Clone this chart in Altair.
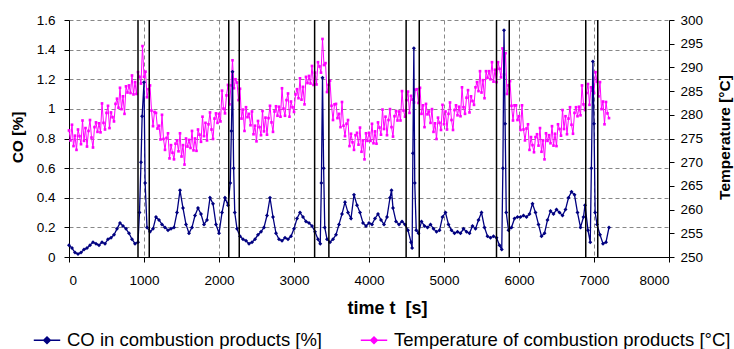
import altair as alt
import pandas as pd

CO_LABEL = "CO in combustion products [%]"
TEMP_LABEL = "Temperature of combustion products [°C]"

# Temperature samples (every 20 s, 0..7200 s), °C
temp_t = list(range(0, 7201, 20))
temp_v = [
    276.7, 274.6, 277.9, 273.4, 275.6, 272.6, 276.9, 275.5, 273.8, 278.8,
    274.5, 277.2, 273.3, 276.6, 278.9, 275.2, 273.1, 277.4, 278.4, 276.4,
    278.2, 276.3, 282.4, 278.3, 276.9, 280.4, 281.9, 277.2, 280.5, 279.5,
    278.6, 282.3, 283.4, 281.5, 285.7, 281.2, 283.9, 280.2, 286.0, 284.7,
    286.2, 284.6, 288.3, 284.3, 286.9, 284.4, 289.0, 288.0, 286.6, 294.5,
    288.0, 289.1, 283.7, 285.4, 286.2, 280.9, 277.6, 280.6, 280.4, 277.1,
    277.7, 274.8, 280.0, 274.9, 272.6, 275.1, 276.1, 270.8, 273.6, 272.0,
    270.6, 273.9, 274.6, 272.3, 276.1, 271.2, 273.6, 269.5, 275.0, 273.3,
    274.7, 273.0, 276.6, 272.5, 275.0, 272.4, 276.9, 275.8, 274.3, 279.6,
    275.5, 278.3, 274.6, 278.0, 280.5, 276.9, 274.9, 279.2, 280.3, 278.3,
    280.2, 278.6, 285.1, 281.3, 280.3, 284.1, 286.3, 282.2, 286.2, 291.5,
    285.6, 287.5, 286.8, 283.1, 285.5, 279.2, 281.1, 276.6, 281.6, 279.5,
    280.2, 277.8, 280.7, 275.9, 277.7, 274.4, 278.7, 277.4, 275.7, 280.8,
    276.5, 279.4, 275.8, 279.3, 281.9, 278.4, 276.4, 280.7, 281.8, 279.8,
    281.7, 279.6, 285.6, 281.3, 279.8, 283.1, 284.5, 279.6, 282.8, 281.6,
    280.6, 284.3, 285.4, 283.5, 287.7, 283.2, 285.9, 282.2, 288.0, 286.7,
    288.2, 286.6, 290.3, 286.3, 288.9, 286.4, 291.1, 290.2, 288.9, 296.0,
    290.5, 290.9, 284.8, 286.3, 287.2, 281.9, 278.9, 282.2, 282.3, 279.3,
    280.2, 277.4, 282.7, 277.7, 275.5, 278.1, 278.9, 273.4, 276.0, 274.2,
    272.6, 275.7, 276.2, 273.7, 277.3, 272.2, 274.6, 270.6, 276.1, 274.5,
    276.2, 274.5, 278.1, 274.0, 276.5, 273.9, 278.4, 277.3, 275.8, 281.1,
    277.0, 279.6, 275.7, 278.9, 281.2, 277.4, 275.4, 279.7, 280.8, 278.8,
    280.7, 278.8, 285.0, 280.9, 279.6, 283.1, 284.9, 280.4, 284.0, 283.2,
    282.6, 285.3, 285.4, 282.5, 285.7, 280.2, 282.0, 277.4, 282.3, 280.1,
    280.7, 278.3, 281.2, 276.4, 278.2, 274.9, 279.4, 278.3, 276.8, 282.1,
    278.0, 280.7, 276.9, 280.2, 282.6, 278.9, 276.8, 281.0, 282.0, 279.9,
    281.7, 279.7, 285.8, 281.6, 280.2, 283.6, 285.2, 280.5, 283.9, 282.9,
    282.1, 285.8, 286.9, 285.0, 289.2, 284.7, 287.3, 283.5, 289.2, 287.8,
    289.2, 287.5, 291.1, 287.0, 289.5, 286.9, 291.1, 289.7, 287.9, 294.0,
    288.5, 293.0, 284.4, 286.2, 287.1, 281.9, 278.8, 282.0, 282.0, 278.9,
    279.7, 276.8, 282.0, 276.9, 274.6, 277.1, 278.0, 272.6, 275.3, 273.6,
    272.1, 275.3, 275.9, 273.5, 277.2, 272.2, 274.6, 270.6, 276.1, 274.5,
    275.7, 274.0, 277.6, 273.5, 276.0, 273.4, 278.0, 277.0, 275.6, 281.0,
    277.0, 279.7, 275.9, 279.2, 281.6, 277.9, 276.0, 280.4, 281.6, 279.7,
    281.7, 279.9, 286.2, 282.2, 281.0, 284.6, 286.5, 282.1, 285.8, 285.1,
    284.6, 289.0, 287.0, 283.9, 286.9, 281.2, 282.8, 278.0, 282.7, 280.3,
    279.3,
]

# CO samples, %
co_t = [
    0, 40, 80, 120, 160, 200, 240, 280, 320, 360,
    400, 440, 480, 520, 560, 600, 640, 680, 720, 760,
    800, 840, 880, 920, 940, 960, 975, 1000, 1015, 1040, 1080, 1120, 1160,
    1200, 1240, 1280, 1320, 1360, 1400, 1440, 1480, 1520, 1560,
    1600, 1640, 1680, 1720, 1760, 1800, 1840, 1880, 1920, 1960,
    2000, 2040, 2080, 2120, 2150, 2165, 2180, 2195, 2210, 2240, 2280, 2320, 2360,
    2400, 2440, 2480, 2520, 2560, 2600, 2640, 2680, 2720, 2760,
    2800, 2840, 2880, 2920, 2960, 3000, 3040, 3080, 3120, 3160,
    3200, 3240, 3280, 3320, 3350, 3365, 3380, 3395, 3410, 3440, 3480, 3520, 3560,
    3600, 3640, 3680, 3720, 3760, 3800, 3840, 3880, 3920, 3960,
    4000, 4040, 4080, 4120, 4160, 4200, 4240, 4280, 4300, 4320, 4360,
    4400, 4440, 4480, 4520, 4560, 4575, 4585, 4598, 4610, 4630, 4660, 4700, 4740, 4780,
    4820, 4860, 4900, 4940, 4980, 5020, 5060, 5100, 5140, 5180,
    5220, 5260, 5300, 5340, 5380, 5420, 5460, 5500, 5540, 5580,
    5620, 5660, 5700, 5740, 5770, 5785, 5800, 5815, 5830, 5860, 5900,
    5940, 5980, 6020, 6060, 6100, 6140, 6180, 6220, 6260, 6300,
    6340, 6380, 6420, 6460, 6500, 6540, 6580, 6620, 6660, 6700,
    6740, 6780, 6820, 6860, 6880, 6920, 6950, 6965, 6985, 7000, 7015, 7040,
    7080, 7120, 7160, 7200,
]
co_v = [
    0.08, 0.06, 0.03, 0.02, 0.03, 0.05, 0.06, 0.08, 0.10, 0.09,
    0.08, 0.10, 0.09, 0.12, 0.13, 0.15, 0.19, 0.23, 0.21, 0.19,
    0.16, 0.12, 0.09, 0.10, 0.30, 0.64, 0.95, 1.18, 0.50, 0.20, 0.17, 0.19, 0.27,
    0.25, 0.22, 0.20, 0.18, 0.19, 0.20, 0.30, 0.45, 0.33, 0.22,
    0.16, 0.20, 0.28, 0.33, 0.29, 0.22, 0.25, 0.40, 0.36, 0.22,
    0.16, 0.30, 0.40, 0.35, 0.50, 0.85, 1.25, 0.60, 0.30, 0.19, 0.14, 0.12, 0.11,
    0.09, 0.10, 0.12, 0.15, 0.17, 0.20, 0.28, 0.40, 0.27, 0.16,
    0.12, 0.11, 0.13, 0.12, 0.14, 0.19, 0.26, 0.30, 0.27, 0.24,
    0.23, 0.21, 0.17, 0.12, 0.09, 0.50, 1.21, 0.60, 0.20, 0.12, 0.10, 0.12, 0.15,
    0.22, 0.29, 0.37, 0.30, 0.26, 0.42, 0.35, 0.30, 0.23, 0.21,
    0.23, 0.22, 0.26, 0.29, 0.25, 0.22, 0.27, 0.40, 0.45, 0.33, 0.24,
    0.22, 0.24, 0.22, 0.18, 0.10, 0.06, 0.70, 1.41, 0.50, 0.18, 0.16, 0.24, 0.21, 0.20,
    0.22, 0.19, 0.17, 0.18, 0.27, 0.30, 0.22, 0.18, 0.16, 0.17,
    0.16, 0.19, 0.17, 0.16, 0.21, 0.19, 0.25, 0.30, 0.20, 0.14,
    0.13, 0.14, 0.13, 0.08, 0.05, 0.60, 1.53, 0.90, 0.30, 0.18, 0.20,
    0.26, 0.27, 0.27, 0.28, 0.27, 0.29, 0.36, 0.30, 0.22, 0.14,
    0.16, 0.25, 0.31, 0.29, 0.32, 0.30, 0.28, 0.32, 0.40, 0.44,
    0.42, 0.30, 0.20, 0.27, 0.35, 0.18, 0.10, 0.60, 1.32, 0.90, 0.30, 0.22,
    0.15, 0.09, 0.10, 0.20,
]

# Vertical marker lines (s)
event_t = [920, 1070, 2130, 2270, 3275, 3465, 4495, 4670, 5700, 5870, 6890, 7050]

x_ticks = [0, 1000, 2000, 3000, 4000, 5000, 6000, 7000, 8000]
co_ticks = [0, 0.2, 0.4, 0.6, 0.8, 1.0, 1.2, 1.4, 1.6]
temp_ticks = [250, 255, 260, 265, 270, 275, 280, 285, 290, 295, 300]

assert len(temp_t) == len(temp_v)
assert len(co_t) == len(co_v)

NAVY = "#000080"
MAGENTA = "#FF00FF"
FONT = "Liberation Sans"

temp_df = pd.DataFrame({"t": temp_t, "v": temp_v, "series": TEMP_LABEL})
co_df = pd.DataFrame({"t": co_t, "v": co_v, "series": CO_LABEL})
ev_df = pd.DataFrame({"t": event_t})

color = alt.Color(
    "series:N",
    scale=alt.Scale(domain=[CO_LABEL, TEMP_LABEL], range=[NAVY, MAGENTA]),
    legend=alt.Legend(
        title=None,
        orient="none",
        legendX=-36,
        legendY=306,
        direction="horizontal",
        labelFont=FONT,
        labelFontSize=18.5,
        labelColor="black",
        labelLimit=0,
        symbolType="M-1,0H1M0,-0.25L0.25,0L0,0.25L-0.25,0Z",
        symbolSize=700,
        symbolStrokeWidth=1.5,
        columnPadding=35,
        labelOffset=6,
    ),
)

x_enc = alt.X(
    "t:Q",
    scale=alt.Scale(domain=[0, 8000], nice=False),
    axis=alt.Axis(
        values=x_ticks,
        format="d",
        title="time t\u00a0\u00a0[s]",
        titleX=318,
        titleAlign="center",
        grid=True,
        gridDash=[4, 3],
        gridColor="#888888",
        domainColor="black",
        tickColor="black",
        tickSize=5,
        labelFont=FONT,
        labelFontSize=13.5,
        labelColor="black",
        labelPadding=11,
        titleFont=FONT,
        titleFontSize=18,
        titleFontWeight="bold",
        titleColor="black",
        titlePadding=13,
    ),
)

temp_layer = alt.Chart(temp_df).mark_line(
    strokeWidth=1,
    point=alt.OverlayMarkDef(shape="square", size=7, filled=True),
).encode(
    x=x_enc,
    y=alt.Y(
        "v:Q",
        scale=alt.Scale(domain=[250, 300], nice=False, zero=False),
        axis=alt.Axis(
            orient="right",
            values=temp_ticks,
            format="d",
            grid=False,
            title="Temperature [°C]",
            titleAngle=270,
            titleX=55,
            titleY=117,
            titleAlign="center",
            titleBaseline="middle",
            titleFont=FONT,
            titleFontSize=15.5,
            titleFontWeight="bold",
            titleColor="black",
            domainColor="black",
            tickColor="black",
            tickSize=5,
            labelFont=FONT,
            labelFontSize=13.5,
            labelColor="black",
            labelPadding=6,
        ),
    ),
    color=color,
    order="t:Q",
)

co_layer = alt.Chart(co_df).mark_line(
    strokeWidth=1.3,
    point=alt.OverlayMarkDef(shape="diamond", size=16, filled=True),
).encode(
    x=x_enc,
    y=alt.Y(
        "v:Q",
        scale=alt.Scale(domain=[0, 1.6], nice=False),
        axis=alt.Axis(
            orient="left",
            values=co_ticks,
            format="~g",
            grid=True,
            gridDash=[4, 3],
            gridColor="#888888",
            title="CO [%]",
            titleAngle=270,
            titleX=-52,
            titleY=117,
            titleAlign="center",
            titleBaseline="middle",
            titleFont=FONT,
            titleFontSize=15.5,
            titleFontWeight="bold",
            titleColor="black",
            domainColor="black",
            tickColor="black",
            tickSize=5,
            labelFont=FONT,
            labelFontSize=13.5,
            labelColor="black",
            labelPadding=9,
        ),
    ),
    color=color,
    order="t:Q",
)

rules = alt.Chart(ev_df).mark_rule(color="black", strokeWidth=1.5).encode(x=x_enc)

chart = (
    alt.layer(temp_layer, co_layer, rules)
    .resolve_scale(y="independent")
    .properties(
        width=600,
        height=237,
        padding={"left": 69, "top": 20, "right": 65, "bottom": 92},
        autosize=alt.AutoSizeParams(type="none"),
        background="white",
    )
    .configure_view(stroke=None)
)

chart.save("out.html", embed_options={"renderer": "svg", "actions": False})
